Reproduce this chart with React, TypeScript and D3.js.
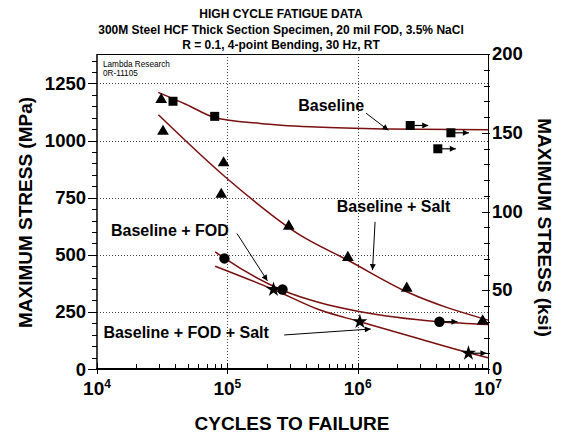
import React, { useEffect, useRef } from 'react';
import * as d3 from 'd3';

const titleLines = [
    'HIGH CYCLE FATIGUE DATA',
    '300M Steel HCF Thick Section Specimen, 20 mil FOD, 3.5% NaCl',
    'R = 0.1, 4-point Bending, 30 Hz, RT'
];
const noteLines = ['Lambda Research', '0R-11105'];

// test points: cycles to failure, max stress (MPa); runout = no failure
const baselineCycles = [38300, 80000, 2.53e6, 5.19e6, 4.12e6];
const baselineStress = [1172, 1106, 1066, 1034, 964];
const baselineRunout = [false, false, true, true, true];

const saltCycles = [31100, 32100, 93600, 89800, 296000, 841000, 2.38e6, 9.1e6];
const saltStress = [1179, 1040, 902, 764, 625, 488, 353, 210];

const fodCycles = [95000, 265000, 4.24e6];
const fodStress = [484, 348, 207];
const fodRunout = [false, false, true];

const fodSaltCycles = [226000, 1.04e6, 7.08e6];
const fodSaltStress = [348, 207, 69];
const fodSaltRunout = [false, false, true];

// fitted curves
const baselineFitCycles = [29500, 48500, 80000, 179000, 433000, 1.71e6, 1e7];
const baselineFitStress = [1211, 1158, 1101, 1075, 1060, 1051, 1047];
const saltFitCycles = [29600, 100000, 362000, 842000, 2.38e6, 1e7];
const saltFitStress = [1113, 833, 586, 476, 338, 214];
const fodFitCycles = [80700, 95000, 265000, 515000, 1e6, 4.24e6, 1e7];
const fodFitStress = [513, 485, 345, 290, 253, 207, 195];
const fodSaltFitCycles = [80700, 226000, 515000, 1.04e6, 3.01e6, 7.08e6, 1e7];
const fodSaltFitStress = [450, 348, 258, 207, 131, 71, 49];

// labels: text start, arrow tail, arrow head (cycles, MPa)
const labelNames = ['Baseline', 'Baseline + Salt', 'Baseline + FOD', 'Baseline + FOD + Salt'];
const labelAt = [[350000, 1129], [692000, 686], [12800, 583], [11200, 135]];
const arrowFrom = [[1.16e6, 1120], [1.36e6, 644], [118600, 593], [273000, 149]];
const arrowTo = [[1.72e6, 1045], [1.30e6, 433], [203000, 386], [1.26e6, 175]];

const decadeTicks = [1e4, 1e5, 1e6, 1e7];
const mpaTicks = [0, 250, 500, 750, 1000, 1250];
const ksiTicks = [0, 50, 100, 150, 200];
const KSI_TO_MPA = 6.89476;

const FONT = '"Liberation Sans", Arial, Helvetica, sans-serif';
const CURVE = '#7a0f0f';

const App = () => {
    const svgRef = useRef(null);

    useEffect(() => {
        const width = 562;
        const height = 436;
        const left = 97, right = 488, top = 54, bottom = 369;

        const svg = d3.select(svgRef.current)
            .attr('width', width)
            .attr('height', height)
            .style('font-family', FONT);
        svg.selectAll('*').remove();

        const x = d3.scaleLog().domain([1e4, 1e7]).range([left, right]);
        const y = d3.scaleLinear().domain([0, 200 * KSI_TO_MPA]).range([bottom, top]);
        const yKsi = d3.scaleLinear().domain([0, 200]).range([bottom, top]);

        const defs = svg.append('defs');
        defs.append('marker')
            .attr('id', 'head')
            .attr('viewBox', '0 0 10 10')
            .attr('refX', 10).attr('refY', 5)
            .attr('markerUnits', 'userSpaceOnUse')
            .attr('markerWidth', 8).attr('markerHeight', 6)
            .attr('orient', 'auto')
            .append('path').attr('d', 'M0,0L10,5L0,10z').attr('fill', '#000');

        // titles
        svg.selectAll('.title').data(titleLines).enter().append('text')
            .attr('x', 281).attr('y', (d, i) => 18 + i * 15.5)
            .attr('text-anchor', 'middle')
            .attr('font-size', 12).attr('font-weight', 'bold')
            .text(d => d);

        // grid
        const grid = svg.append('g').attr('stroke', '#444').attr('stroke-width', 1).attr('stroke-dasharray', '1,2');
        mpaTicks.filter(t => t > 0).forEach(t => {
            grid.append('line').attr('x1', left).attr('x2', right).attr('y1', Math.round(y(t)) + 0.5).attr('y2', Math.round(y(t)) + 0.5);
        });
        decadeTicks.slice(1, -1).forEach(t => {
            grid.append('line').attr('y1', top).attr('y2', bottom).attr('x1', Math.round(x(t)) + 0.5).attr('x2', Math.round(x(t)) + 0.5);
        });

        // frame
        svg.append('line').attr('x1', left).attr('x2', right).attr('y1', top + 0.5).attr('y2', top + 0.5).attr('stroke', '#000');
        svg.append('line').attr('x1', right + 0.5).attr('x2', right + 0.5).attr('y1', top).attr('y2', bottom).attr('stroke', '#000');
        svg.append('line').attr('x1', left).attr('x2', left).attr('y1', top).attr('y2', bottom).attr('stroke', '#000').attr('stroke-width', 1.5);
        svg.append('line').attr('x1', left - 1).attr('x2', right + 1).attr('y1', bottom).attr('y2', bottom).attr('stroke', '#000').attr('stroke-width', 2);

        const ticks = svg.append('g').attr('stroke', '#000').attr('stroke-width', 1);
        // left axis ticks (outside)
        d3.range(0, 200 * KSI_TO_MPA, 50).forEach(t => {
            const major = t % 250 === 0;
            const yy = Math.round(y(t)) + 0.5;
            ticks.append('line').attr('x1', major ? left - 9 : left - 5).attr('x2', left).attr('y1', yy).attr('y2', yy);
        });
        // right axis ticks (inside)
        d3.range(0, 201, 10).forEach(t => {
            const major = t % 50 === 0;
            const yy = Math.round(yKsi(t)) + 0.5;
            ticks.append('line').attr('x1', right - (major ? 6 : 4)).attr('x2', right + 2).attr('y1', yy).attr('y2', yy);
        });
        // bottom axis ticks
        decadeTicks.forEach(d => {
            const xx = Math.round(x(d)) + 0.5;
            ticks.append('line').attr('x1', xx).attr('x2', xx).attr('y1', bottom - 6).attr('y2', bottom + 5);
            if (d < 1e7) {
                d3.range(2, 10).forEach(m => {
                    const mx = Math.round(x(d * m)) + 0.5;
                    ticks.append('line').attr('x1', mx).attr('x2', mx).attr('y1', bottom - 5).attr('y2', bottom);
                });
            }
        });

        // tick labels
        svg.selectAll('.ylab').data(mpaTicks).enter().append('text')
            .attr('x', 86).attr('y', d => y(d) + 6.5)
            .attr('text-anchor', 'end')
            .attr('font-size', 18.5).attr('font-weight', 'bold')
            .text(d => d);
        svg.selectAll('.klab').data(ksiTicks).enter().append('text')
            .attr('x', 492).attr('y', d => yKsi(d) + 6)
            .attr('font-size', 18.5).attr('font-weight', 'bold')
            .text(d => d);
        const xl = svg.selectAll('.xlab').data(decadeTicks).enter().append('text')
            .attr('x', d => x(d)).attr('y', 395)
            .attr('text-anchor', 'middle')
            .attr('font-size', 19).attr('font-weight', 'bold');
        xl.append('tspan').text('10');
        xl.append('tspan').attr('dy', -7).attr('font-size', 12).text(d => Math.round(Math.log10(d)));

        // axis titles
        svg.append('text')
            .attr('transform', `translate(32, ${(top + bottom) / 2 + 1}) rotate(-90)`)
            .attr('text-anchor', 'middle')
            .attr('font-size', 19).attr('font-weight', 'bold')
            .text('MAXIMUM STRESS (MPa)');
        svg.append('text')
            .attr('transform', `translate(538, ${(top + bottom) / 2 + 16}) rotate(90)`)
            .attr('text-anchor', 'middle')
            .attr('font-size', 19).attr('font-weight', 'bold')
            .text('MAXIMUM STRESS (ksi)');
        svg.append('text')
            .attr('x', 292).attr('y', 430)
            .attr('text-anchor', 'middle')
            .attr('font-size', 19).attr('font-weight', 'bold')
            .text('CYCLES TO FAILURE');

        svg.selectAll('.note').data(noteLines).enter().append('text')
            .attr('x', 103).attr('y', (d, i) => 67 + i * 9)
            .attr('font-size', 8.2)
            .text(d => d);

        // fitted curves
        const line = d3.line().x(d => x(d[0])).y(d => y(d[1])).curve(d3.curveMonotoneX);
        const fits = [
            [baselineFitCycles, baselineFitStress],
            [saltFitCycles, saltFitStress],
            [fodFitCycles, fodFitStress],
            [fodSaltFitCycles, fodSaltFitStress]
        ];
        fits.forEach(([c, s]) => {
            svg.append('path')
                .attr('d', line(c.map((v, i) => [v, s[i]])))
                .attr('fill', 'none')
                .attr('stroke', CURVE)
                .attr('stroke-width', 1.5);
        });

        // points
        const sets = [
            { cycles: baselineCycles, stress: baselineStress, runout: baselineRunout, type: d3.symbolSquare, size: 81 },
            { cycles: saltCycles, stress: saltStress, runout: saltCycles.map(() => false), type: d3.symbolTriangle, size: 60 },
            { cycles: fodCycles, stress: fodStress, runout: fodRunout, type: d3.symbolCircle, size: 85 },
            { cycles: fodSaltCycles, stress: fodSaltStress, runout: fodSaltRunout, type: d3.symbolStar, size: 70 }
        ];
        sets.forEach(set => {
            const sym = d3.symbol().type(set.type).size(set.size);
            set.cycles.forEach((c, i) => {
                const px = x(c), py = y(set.stress[i]);
                svg.append('path')
                    .attr('d', sym())
                    .attr('transform', `translate(${px},${py})`)
                    .attr('fill', '#000');
                if (set.runout[i]) {
                    svg.append('line')
                        .attr('x1', px + 4).attr('x2', px + 18)
                        .attr('y1', py).attr('y2', py)
                        .attr('stroke', '#000').attr('stroke-width', 1.2)
                        .attr('marker-end', 'url(#head)');
                }
            });
        });

        // curve labels with arrows
        labelNames.forEach((name, i) => {
            svg.append('text')
                .attr('x', x(labelAt[i][0])).attr('y', y(labelAt[i][1]))
                .attr('font-size', 16).attr('font-weight', 'bold')
                .text(name);
            svg.append('line')
                .attr('x1', x(arrowFrom[i][0])).attr('y1', y(arrowFrom[i][1]))
                .attr('x2', x(arrowTo[i][0])).attr('y2', y(arrowTo[i][1]))
                .attr('stroke', '#000').attr('stroke-width', 1)
                .attr('marker-end', 'url(#head)');
        });
    }, []);

    return (
        <svg ref={svgRef} style={{ position: 'absolute', left: 0, top: 0, background: '#fff' }}></svg>
    );
};

export default App;
